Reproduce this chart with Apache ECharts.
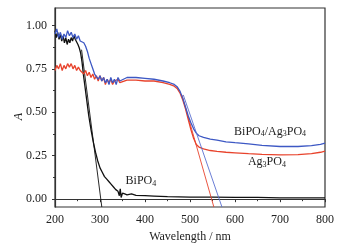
<!DOCTYPE html>
<html>
<head>
<meta charset="utf-8">
<script src="https://cdn.jsdelivr.net/npm/echarts@6/dist/echarts.min.js"></script>
<style>html,body{margin:0;padding:0;background:#fff}#c{width:357px;height:245px}</style>
</head>
<body>
<div id="c"></div>
<script>
// ---- data ----
const xComposite = [200,204,208,212,216,220,224,228,232,236,240,244,248,252,256,260,264,268,272,276,280,284,288,292,296,300,304,308,312,316,320,324,328,332,336,340,344,348,360,380,400,420,440,455,465,472,478,484,490,496,502,508,514,520,530,545,560,580,600,630,660,700,740,770,790,800];
const yBiAg = [0.95,0.98,0.93,0.96,0.92,0.95,0.93,0.97,0.94,0.96,0.93,0.95,0.92,0.94,0.91,0.92,0.90,0.88,0.85,0.81,0.78,0.75,0.72,0.71,0.69,0.71,0.68,0.70,0.67,0.69,0.66,0.70,0.67,0.69,0.66,0.70,0.68,0.69,0.70,0.70,0.695,0.69,0.68,0.67,0.66,0.645,0.62,0.58,0.53,0.48,0.44,0.405,0.38,0.365,0.355,0.345,0.34,0.33,0.325,0.318,0.31,0.303,0.303,0.308,0.315,0.322];
const yAg = [0.74,0.77,0.75,0.78,0.74,0.77,0.75,0.78,0.76,0.78,0.75,0.77,0.74,0.76,0.74,0.75,0.72,0.74,0.71,0.73,0.70,0.72,0.69,0.71,0.68,0.71,0.68,0.70,0.66,0.69,0.67,0.69,0.66,0.68,0.67,0.69,0.67,0.68,0.685,0.685,0.68,0.68,0.67,0.66,0.65,0.635,0.61,0.57,0.52,0.46,0.40,0.35,0.315,0.30,0.29,0.28,0.275,0.27,0.267,0.262,0.258,0.255,0.256,0.262,0.27,0.277];
const xBi = [200,203,206,209,212,215,218,221,224,227,230,233,236,239,242,245,248,251,254,257,260,263,266,270,275,280,285,290,295,300,305,310,315,320,325,330,335,340,343,345,347,350,355,360,370,380,400,420,450,500,550,600,650,700,750,800];
const yBi = [0.97,0.93,0.96,0.92,0.95,0.91,0.94,0.90,0.93,0.89,0.92,0.90,0.93,0.91,0.94,0.92,0.93,0.89,0.87,0.84,0.79,0.72,0.66,0.58,0.48,0.40,0.33,0.27,0.22,0.18,0.155,0.13,0.115,0.10,0.085,0.07,0.055,0.045,0.02,0.06,0.01,0.035,0.03,0.025,0.03,0.022,0.02,0.018,0.015,0.012,0.012,0.01,0.01,0.008,0.008,0.008];
// tangent (onset) lines: [wavelength, absorbance] end points
const tanBiX = [259, 304];   const tanBiY = [0.86, -0.045];
const tanAgX = [482, 553];   const tanAgY = [0.60, -0.045];
const tanBiAgX = [485, 571]; const tanBiAgY = [0.60, -0.045];
// annotation labels
const labelText = ['{n|BiPO}{s|4}{n|/Ag}{s|3}{n|PO}{s|4}', '{n|Ag}{s|3}{n|PO}{s|4}', '{n|BiPO}{s|4}'];
const labelX = [678, 671, 391];
const labelY = [0.39, 0.215, 0.105];
const yTicks = [0, 0.25, 0.5, 0.75, 1.0];
const yMinor = [0.125, 0.375, 0.625, 0.875];

const pair = (xs, ys) => xs.map((x, i) => [x, ys[i]]);
const FONT = '"Liberation Serif", "DejaVu Serif", serif';
const AX = '#333';

const chart = echarts.init(document.getElementById('c'), null, {renderer: 'canvas'});
const rich = {
  n: {fontFamily: FONT, fontSize: 12, color: '#222'},
  s: {fontFamily: FONT, fontSize: 8, color: '#222', verticalAlign: 'bottom', padding: [6,0,0,0]}
};
chart.setOption({
  animation: false,
  grid: {left: 55, top: 8, right: 32, bottom: 38, outerBoundsMode: 'none', show: true, borderColor: AX, borderWidth: 1.2, backgroundColor: 'transparent'},
  xAxis: {
    type: 'value', min: 200, max: 800, interval: 100,
    name: 'Wavelength / nm', nameLocation: 'middle', nameGap: 19,
    nameTextStyle: {fontFamily: FONT, fontSize: 12, color: '#222'},
    axisLine: {lineStyle: {color: AX, width: 1.2}},
    axisTick: {length: 3, lineStyle: {color: AX}},
    minorTick: {show: true, splitNumber: 2, length: 2, lineStyle: {color: AX}},
    axisLabel: {fontFamily: FONT, fontSize: 12, color: '#222', margin: 7},
    splitLine: {show: false}
  },
  yAxis: [{
    type: 'value', min: -0.045, max: 1.1,
    name: 'A', nameLocation: 'middle', nameGap: 30, nameRotate: 90, nameMoveOverlap: false,
    nameTextStyle: {fontFamily: FONT, fontSize: 12, fontStyle: 'italic', color: '#222', padding: [0, 18, 0, 0]},
    axisLine: {show: true, lineStyle: {color: AX, width: 1.2}},
    axisTick: {show: true, length: 3, customValues: yTicks, lineStyle: {color: AX}},
    axisLabel: {fontFamily: FONT, fontSize: 12, color: '#222', margin: 8, customValues: yTicks, formatter: v => v.toFixed(2)},
    splitLine: {show: false}
  }, {
    type: 'value', min: -0.045, max: 1.1, position: 'left',
    axisLine: {show: false},
    axisTick: {show: true, length: 2, customValues: yMinor, lineStyle: {color: AX}},
    axisLabel: {show: false},
    splitLine: {show: false}
  }],
  series: [
    {type: 'line', data: pair(xBi, yBi), showSymbol: false, lineStyle: {color: '#111', width: 1.3}, z: 3},
    {type: 'line', data: pair(xComposite, yAg), showSymbol: false, lineStyle: {color: '#e8432c', width: 1.3}, z: 4},
    {type: 'line', data: pair(xComposite, yBiAg), showSymbol: false, lineStyle: {color: '#3d58c4', width: 1.3}, z: 5},
    {type: 'line', data: pair(tanBiX, tanBiY), showSymbol: false, lineStyle: {color: '#111', width: 0.9}, z: 3},
    {type: 'line', data: pair(tanAgX, tanAgY), showSymbol: false, lineStyle: {color: '#e8432c', width: 0.9}, z: 4},
    {type: 'line', data: pair(tanBiAgX, tanBiAgY), showSymbol: false, lineStyle: {color: '#5a6fd0', width: 0.9}, z: 5,
     markPoint: {
       symbol: 'circle', symbolSize: 0, silent: true,
       data: labelText.map((t, i) => ({coord: [labelX[i], labelY[i]], label: {show: true, position: 'inside', formatter: t, rich: rich}}))
     }}
  ]
});
</script>
</body>
</html>
